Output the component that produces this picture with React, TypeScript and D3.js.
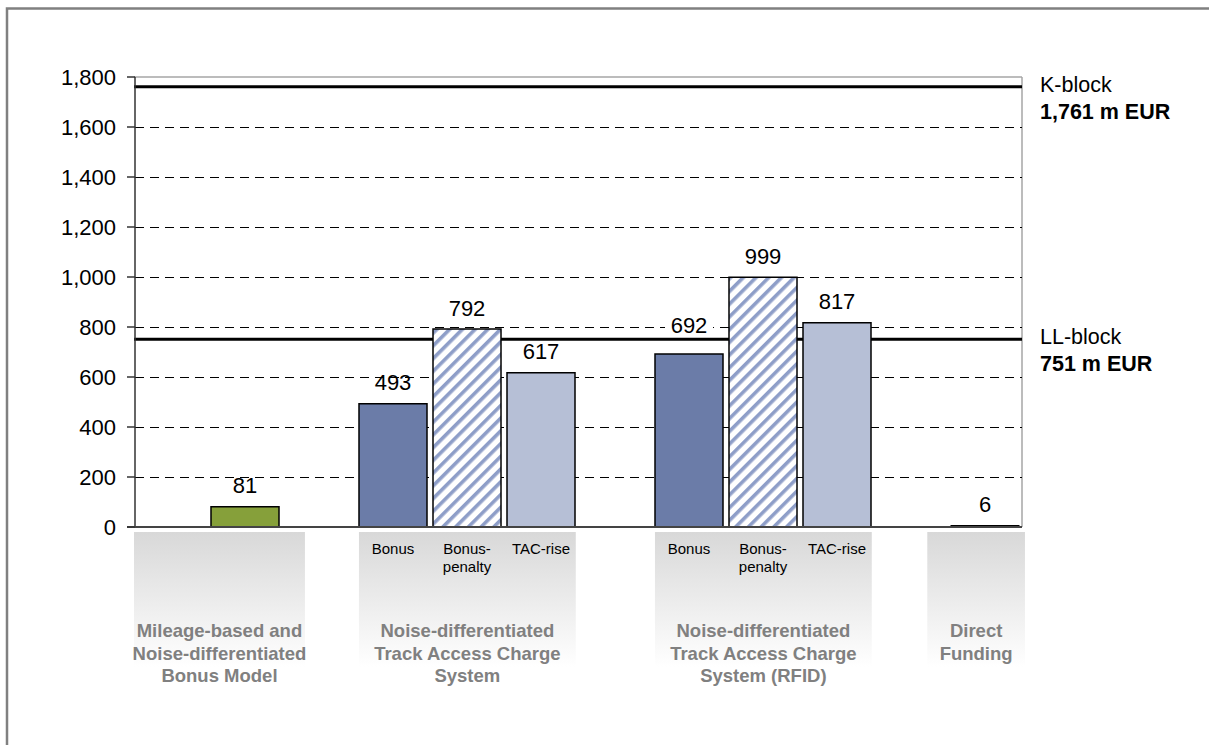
import React from "react";
import * as d3 from "d3";

// ---- data ----
const groupTitles: string[][] = [
  ["Mileage-based and", "Noise-differentiated", "Bonus Model"],
  ["Noise-differentiated", "Track Access Charge", "System"],
  ["Noise-differentiated", "Track Access Charge", "System (RFID)"],
  ["Direct", "Funding"],
];
const barSlots: number[] = [0, 2, 3, 4, 6, 7, 8, 10];
const barValues: number[] = [81, 493, 792, 617, 692, 999, 817, 6];
const barKinds: string[] = ["green", "bonus", "penalty", "tac", "bonus", "penalty", "tac", "direct"];
const barSubLabels: string[][] = [[], ["Bonus"], ["Bonus-", "penalty"], ["TAC-rise"], ["Bonus"], ["Bonus-", "penalty"], ["TAC-rise"], []];
const yTicks: number[] = [0, 200, 400, 600, 800, 1000, 1200, 1400, 1600, 1800];
const refLines: { value: number; name: string; label: string }[] = [
  { value: 1761, name: "K-block", label: "1,761 m EUR" },
  { value: 751, name: "LL-block", label: "751 m EUR" },
];
// group label boxes in slot units
const groupBoxSlots: [number, number][] = [
  [-1.5, 0.81],
  [1.54, 4.47],
  [5.54, 8.47],
  [9.22, 10.54],
];

const FONT = "'Liberation Sans', Arial, sans-serif";

export default function App() {
  const W = 1209, H = 745;
  const x0 = 134, x1 = 1022, yTop = 77, yBot = 527;
  const x = d3.scaleLinear().domain([-1.5, 10.5]).range([x0, x1]);
  const y = d3.scaleLinear().domain([0, 1800]).range([yBot, yTop]);
  const bw = 68;
  const fmt = d3.format(",");

  const fills: Record<string, string> = {
    green: "#86A03A",
    bonus: "#6B7CA8",
    penalty: "url(#hatch)",
    tac: "#B6BFD6",
    direct: "#1a1a1a",
  };

  // label placement: 692 label lifted above the LL-block line (as in the source)
  const labelY = (i: number, top: number) => (barValues[i] === 692 ? 333 : top - 13.5);

  return (
    <svg width={W} height={H} style={{ position: "absolute", left: 0, top: 0, background: "#fff" }} fontFamily={FONT}>
      <defs>
        <pattern id="hatch" patternUnits="userSpaceOnUse" width="9" height="9" patternTransform="rotate(45)">
          <rect width="9" height="9" fill="#fff" />
          <rect x="0" y="0" width="3.6" height="9" fill="#8E9EC8" />
        </pattern>
        <linearGradient id="boxGrad" x1="0" y1="0" x2="0" y2="1">
          <stop offset="0" stopColor="#D8D8D8" />
          <stop offset="1" stopColor="#FFFFFF" />
        </linearGradient>
      </defs>

      {/* outer frame */}
      <rect x={7} y={8.5} width={1260} height={800} fill="none" stroke="#808080" strokeWidth={2.5} />

      {/* plot area frame (top/right light) */}
      <line x1={x0} x2={x1} y1={yTop} y2={yTop} stroke="#A6A6A6" strokeWidth={1.5} />
      <line x1={x1} x2={x1} y1={yTop} y2={yBot} stroke="#A6A6A6" strokeWidth={1.5} />

      {/* gridlines */}
      {yTicks.filter((t) => t > 0 && t < 1800).map((t) => (
        <line key={"g" + t} x1={x0 + 1} x2={x1} y1={y(t) + 0.5} y2={y(t) + 0.5} stroke="#000" strokeWidth={1}
          strokeDasharray="9,6" shapeRendering="crispEdges" />
      ))}

      {/* category label boxes */}
      {groupBoxSlots.map(([a, b], i) => (
        <rect key={"box" + i} x={x(a)} y={532} width={x(b) - x(a)} height={135} fill="url(#boxGrad)" />
      ))}

      {/* reference lines */}
      {refLines.map((r) => (
        <g key={r.name}>
          <line x1={x0} x2={x1} y1={y(r.value)} y2={y(r.value)} stroke="#000" strokeWidth={3} />
          <text x={1040} y={y(r.value) + 5} fontSize={21.5} fill="#000">{r.name}</text>
          <text x={1040} y={y(r.value) + 32} fontSize={21.5} fontWeight="bold" fill="#000">{r.label}</text>
        </g>
      ))}

      {/* bars */}
      {barValues.map((v, i) => {
        const cx = x(barSlots[i]);
        const top = y(v);
        const ly = labelY(i, top);
        const isDirect = barKinds[i] === "direct";
        return (
          <g key={"bar" + i}>
            <rect x={cx - bw / 2} y={top} width={bw} height={yBot - top} fill={fills[barKinds[i]]}
              stroke="#000" strokeWidth={isDirect ? 1 : 1.5} />
            {v === 692 && <rect x={cx - 24} y={ly - 19} width={48} height={23} fill="#fff" />}
            <text x={cx} y={ly} textAnchor="middle" fontSize={22} fill="#000">{fmt(v)}</text>
            {barSubLabels[i].map((s, j) => (
              <text key={j} x={cx} y={553.5 + j * 18} textAnchor="middle" fontSize={15} fill="#000">{s}</text>
            ))}
          </g>
        );
      })}

      {/* y axis */}
      <line x1={135} x2={135} y1={yTop} y2={yBot} stroke="#333" strokeWidth={1.5} />
      <line x1={127} x2={x1} y1={yBot} y2={yBot} stroke="#444" strokeWidth={1.8} />
      {yTicks.map((t) => (
        <g key={"t" + t}>
          <line x1={127} x2={135} y1={y(t)} y2={y(t)} stroke="#333" strokeWidth={1.5} />
          <text x={116} y={y(t) + 7.8} textAnchor="end" fontSize={22} fill="#000">{fmt(t)}</text>
        </g>
      ))}

      {/* group titles */}
      {groupTitles.map((lines, i) => {
        const [a, b] = groupBoxSlots[i];
        const cx = (x(a) + x(b)) / 2;
        return lines.map((s, j) => (
          <text key={"gt" + i + j} x={cx} y={637 + j * 22.5} textAnchor="middle" fontSize={18.5} fontWeight="bold" fill="#808080">{s}</text>
        ));
      })}
    </svg>
  );
}
